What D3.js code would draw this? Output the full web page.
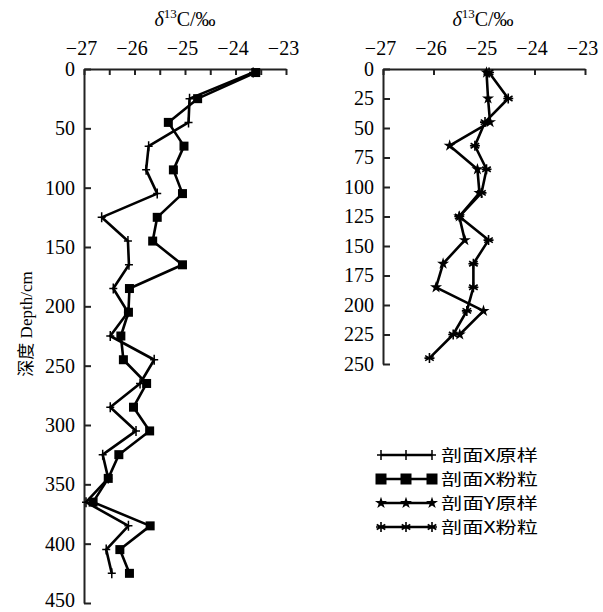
<!DOCTYPE html>
<html>
<head>
<meta charset="utf-8">
<script src="https://cdn.jsdelivr.net/npm/d3@7"></script>
<style>
  body { margin: 0; background: #fff; }
  svg { display: block; }
  .tick text { font-family: "Liberation Serif", "DejaVu Serif", serif; font-size: 20px; fill: #000; }
  .domain, .tick line { stroke: #222; stroke-width: 2px; }
</style>
</head>
<body>
<svg></svg>
<script>
var width = 603,
    height = 612;

// section X (left panel)
var depthX = [3, 25, 45, 65, 85, 105, 125, 145, 165, 185, 205, 225, 245, 265, 285, 305, 325, 345, 365, 385, 405, 425];
var xRaw = [-23.65, -24.91, -24.93, -25.72, -25.77, -25.55, -26.65, -26.13, -26.11, -26.42, -26.13,
            -26.48, -25.61, -25.89, -26.48, -25.97, -26.63, -26.52, -26.96, -26.12, -26.56, -26.45];
var xSilt = [-23.6, -24.75, -25.33, -25.02, -25.23, -25.05, -25.55, -25.64, -25.05, -26.10, -26.12,
             -26.27, -26.22, -25.76, -26.02, -25.70, -26.31, -26.52, -26.82, -25.69, -26.29, -26.10];

// section Y (right panel)
var depthYRaw = [3, 25, 45, 65, 85, 105, 125, 145, 165, 185, 205, 225];
var yRaw = [-24.95, -24.92, -24.88, -25.68, -25.13, -25.09, -25.49, -25.38, -25.81, -25.95, -25.01, -25.48];
var depthYSilt = [3, 25, 45, 65, 85, 105, 125, 145, 165, 185, 205, 225, 245];
var ySilt = [-24.9, -24.52, -24.98, -25.18, -24.95, -25.05, -25.49, -24.91, -25.21, -25.21, -25.34, -25.61, -26.08];

var legendLabels = ["剖面X原样", "剖面X粉粒", "剖面Y原样", "剖面X粉粒"];
var xTicksLeft = [-27, -26.5, -26, -25.5, -25, -24.5, -24, -23.5, -23];
var xTicksRight = [-27, -26, -25, -24, -23];
var yTicksLeft = [0, 50, 100, 150, 200, 250, 300, 350, 400, 450];
var yTicksRight = [0, 25, 50, 75, 100, 125, 150, 175, 200, 225, 250];

var svg = d3.select("svg")
    .attr("width", width)
    .attr("height", height);

svg.append("rect").attr("width", width).attr("height", height).attr("fill", "#fff");

var xL = d3.scaleLinear().domain([-27, -23]).range([84, 286]);
var yL = d3.scaleLinear().domain([0, 450]).range([69, 603]);
var xR = d3.scaleLinear().domain([-27, -23]).range([383, 585]);
var yR = d3.scaleLinear().domain([0, 250]).range([69, 364]);

function fmtInt(d) {
    return Number.isInteger(d) ? d3.format("d")(d) : "";
}

function drawAxes(x, y, xTicks, yTicks) {
    var gx = svg.append("g")
        .attr("transform", "translate(0," + y.range()[0] + ")")
        .call(d3.axisTop(x).tickValues(xTicks).tickFormat(fmtInt).tickSize(-6).tickSizeOuter(0).tickPadding(14));
    gx.selectAll(".tick text").attr("dx", -3);

    var gy = svg.append("g")
        .attr("transform", "translate(" + x.range()[0] + ",0)")
        .call(d3.axisLeft(y).tickValues(yTicks).tickFormat(d3.format("d")).tickSize(-7).tickSizeOuter(0).tickPadding(9));
    // keep the lowest label inside the picture
    gy.selectAll(".tick text").filter(function (d) { return d === 450; }).attr("dy", "0.15em");
}

drawAxes(xL, yL, xTicksLeft, yTicksLeft);
drawAxes(xR, yR, xTicksRight, yTicksRight);

// titles
function deltaTitle(cx) {
    var t = svg.append("text")
        .attr("x", cx).attr("y", 26)
        .attr("text-anchor", "middle")
        .style("font-family", "Liberation Serif, serif")
        .style("font-size", "20px");
    t.append("tspan").style("font-style", "italic").text("δ");
    t.append("tspan").attr("dy", -8).style("font-size", "13px").text("13");
    t.append("tspan").attr("dy", 8).text("C/‰");
}
deltaTitle(185);
deltaTitle(483);

svg.append("text")
    .attr("transform", "translate(32,324) rotate(-90)")
    .attr("text-anchor", "middle")
    .style("font-family", "Liberation Serif, 'Noto Sans CJK SC', serif")
    .style("font-size", "17px")
    .text("深度 Depth/cm");

// markers
var starPath = d3.symbol().type(d3.symbolStar).size(45)();
var asteriskPath = "M0,-5V5M-4.3,-2.5L4.3,2.5M-4.3,2.5L4.3,-2.5M-5,0H5";

function drawMarker(g, type, cx, cy) {
    if (type === "plus") {
        g.append("path").attr("d", "M" + cx + "," + (cy - 5) + "V" + (cy + 5) + "M" + (cx - 4) + "," + cy + "H" + (cx + 4))
            .attr("stroke", "#000").attr("stroke-width", 1.5).attr("fill", "none");
    } else if (type === "square") {
        g.append("rect").attr("x", cx - 4.5).attr("y", cy - 4.5).attr("width", 9).attr("height", 9).attr("fill", "#000");
    } else if (type === "star") {
        g.append("path").attr("d", starPath).attr("transform", "translate(" + cx + "," + cy + ")").attr("fill", "#000");
    } else {
        g.append("path").attr("d", asteriskPath).attr("transform", "translate(" + cx + "," + cy + ")")
            .attr("stroke", "#000").attr("stroke-width", 1.6).attr("fill", "none");
    }
}

function drawSeries(x, y, values, depths, type) {
    var pts = values.map(function (v, i) { return [x(v), y(depths[i])]; });
    var g = svg.append("g");
    g.append("path")
        .attr("d", d3.line()(pts))
        .attr("fill", "none")
        .attr("stroke", "#000")
        .attr("stroke-width", 2.6)
        .attr("stroke-linejoin", "round");
    pts.forEach(function (p) { drawMarker(g, type, p[0], p[1]); });
}

drawSeries(xL, yL, xRaw, depthX, "plus");
drawSeries(xL, yL, xSilt, depthX, "square");
drawSeries(xR, yR, yRaw, depthYRaw, "star");
drawSeries(xR, yR, ySilt, depthYSilt, "asterisk");

// legend
var legendTypes = ["plus", "square", "star", "asterisk"];
var legendY = d3.scalePoint().domain(d3.range(4)).range([455, 527]);
legendLabels.forEach(function (lab, i) {
    var g = svg.append("g");
    var cy = legendY(i);
    g.append("line").attr("x1", 381).attr("x2", 432).attr("y1", cy).attr("y2", cy)
        .attr("stroke", "#000").attr("stroke-width", 2.6);
    [381, 406, 432].forEach(function (cx) {
        if (legendTypes[i] === "square") {
            g.append("rect").attr("x", cx - 5.5).attr("y", cy - 5.5).attr("width", 11).attr("height", 11).attr("fill", "#000");
        } else {
            drawMarker(g, legendTypes[i], cx, cy);
        }
    });
    g.append("text")
        .attr("x", 441).attr("y", cy + 6)
        .attr("textLength", 97)
        .attr("lengthAdjust", "spacingAndGlyphs")
        .style("font-family", "'Noto Sans CJK SC', sans-serif")
        .style("font-size", "16px")
        .text(lab);
});
</script>
</body>
</html>
